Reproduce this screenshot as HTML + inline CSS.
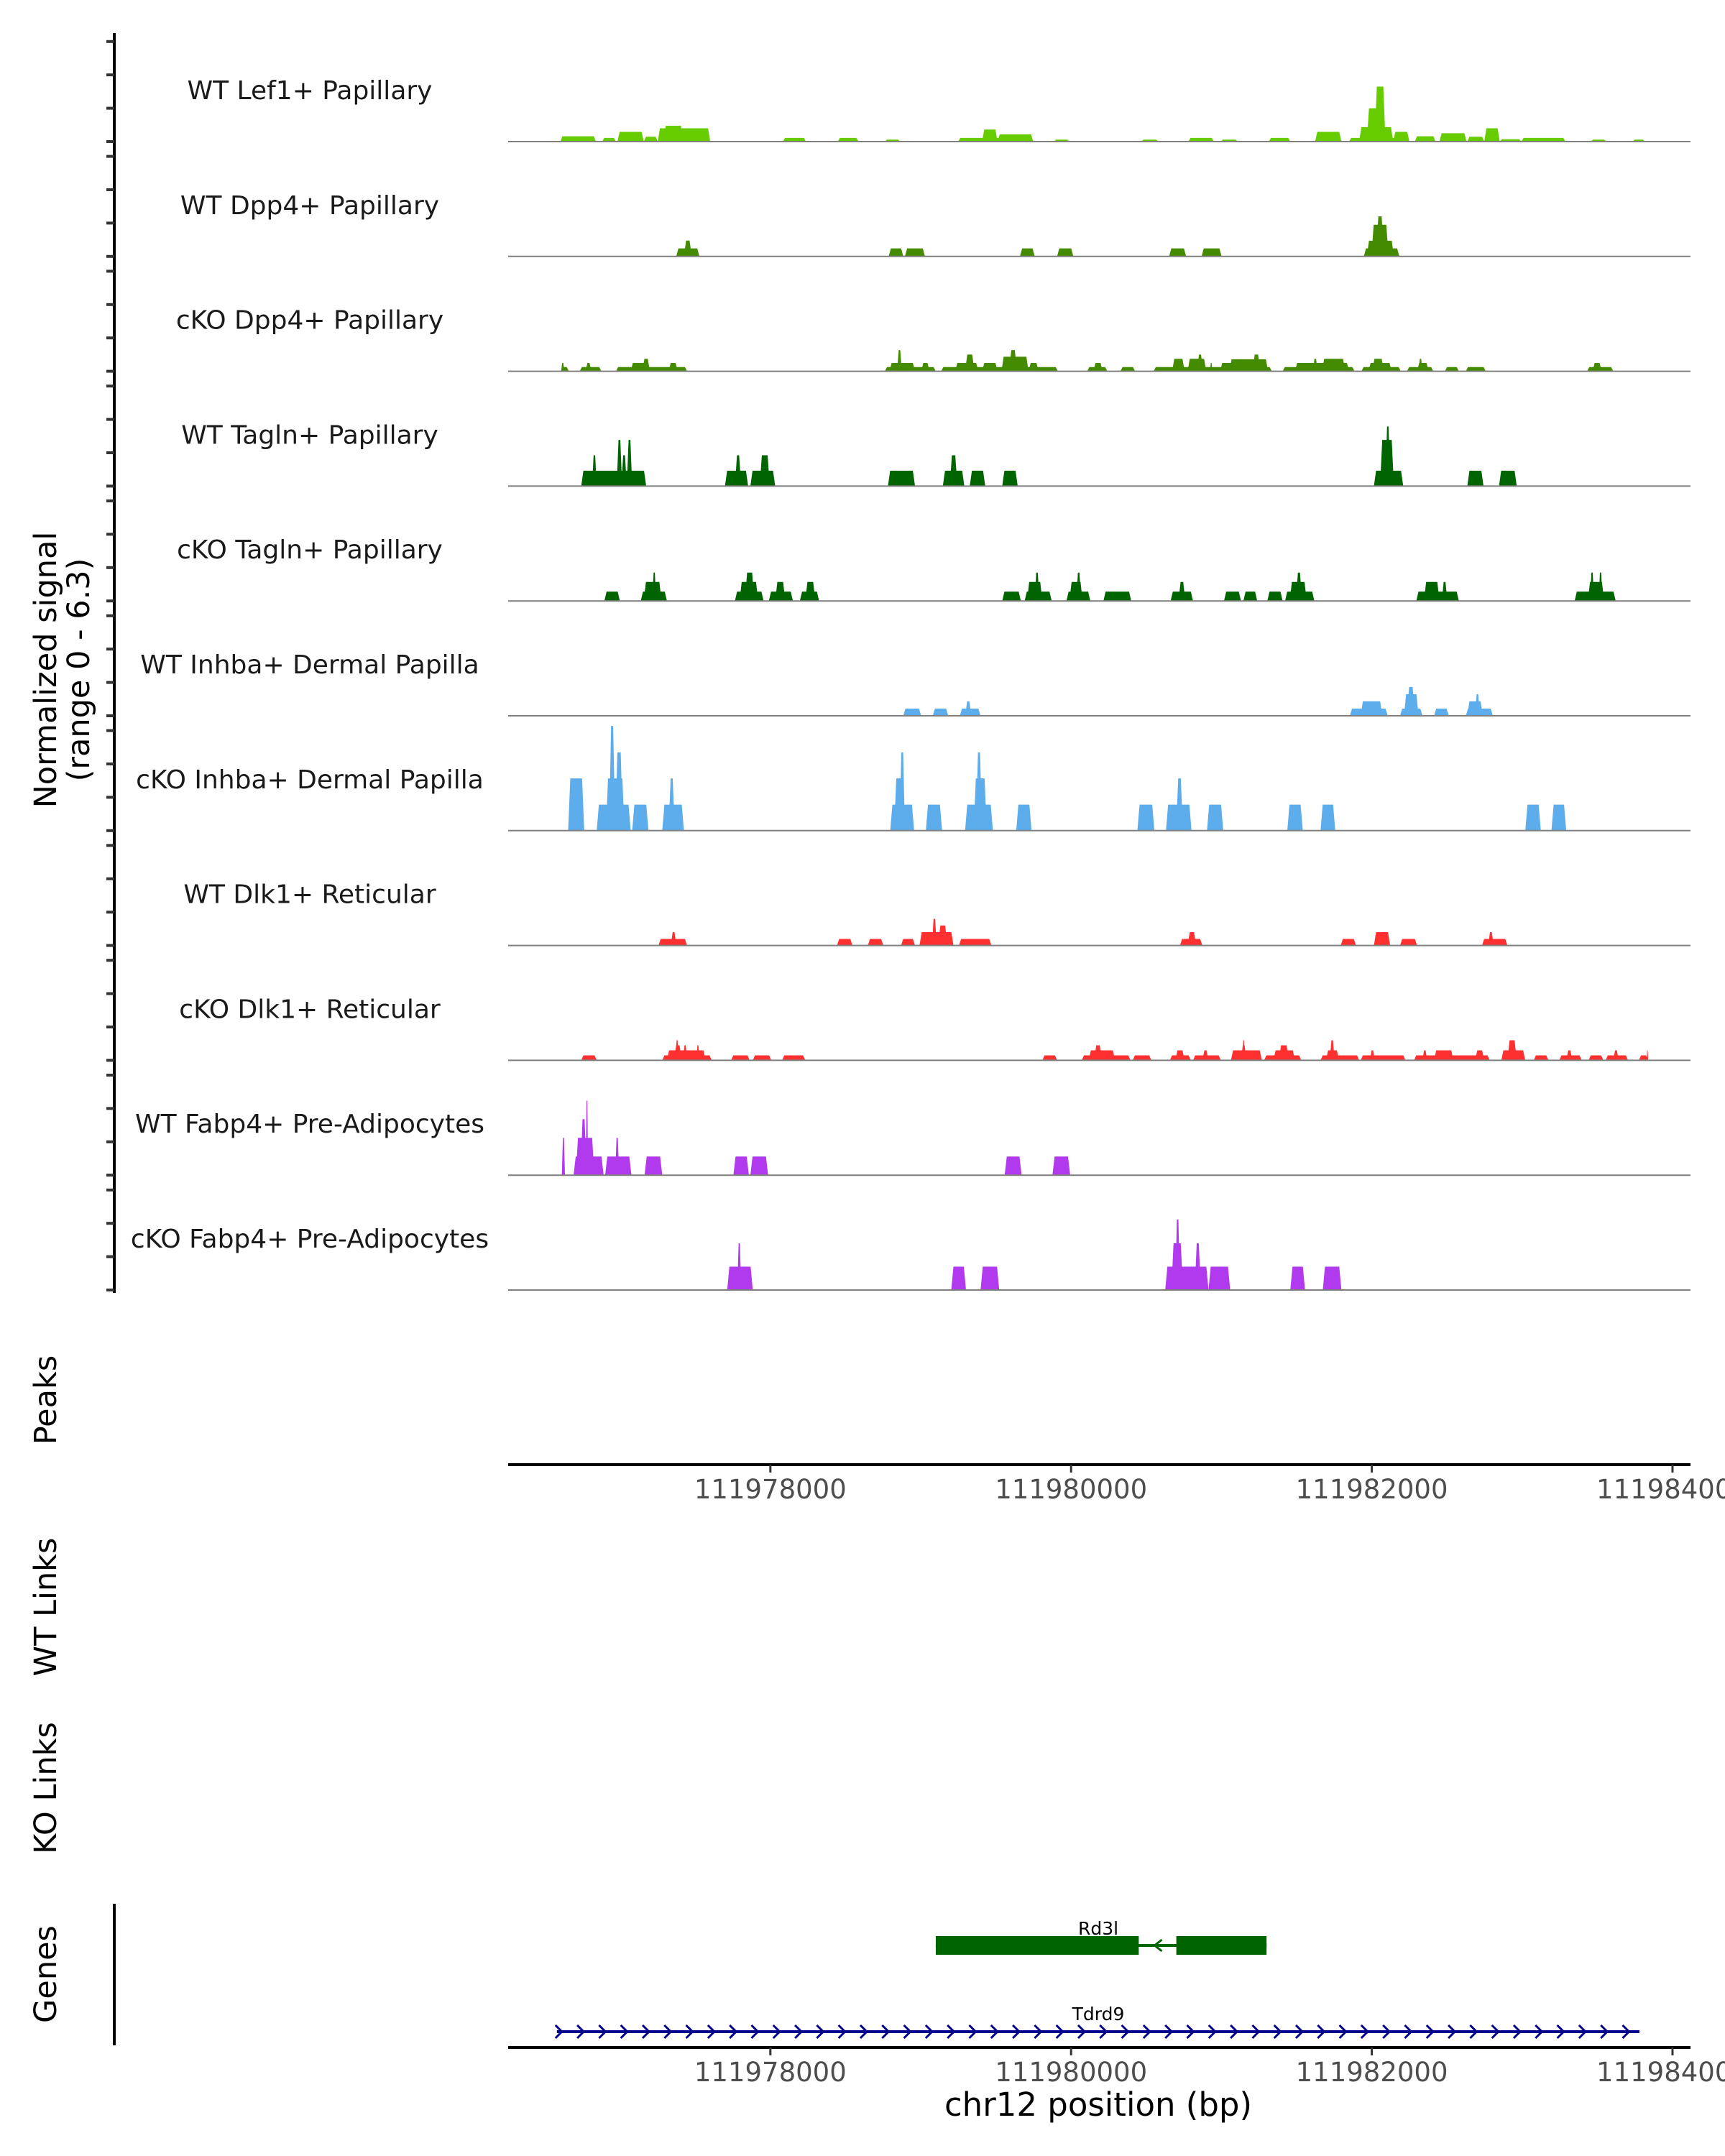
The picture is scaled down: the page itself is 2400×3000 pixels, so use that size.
<!DOCTYPE html>
<html><head><meta charset="utf-8"><style>
html,body{margin:0;padding:0;background:#fff}
svg{display:block;font-family:"DejaVu Sans","Liberation Sans",sans-serif}
</style></head><body>
<svg id="chart" width="2400" height="3000" viewBox="0 0 2400 3000" xmlns="http://www.w3.org/2000/svg">
<g id="tracks"></g>
<g id="yaxis"><line x1="159" y1="46" x2="159" y2="1799" stroke="#000" stroke-width="4"/></g>
<text transform="translate(78,932) rotate(-90)" text-anchor="middle" font-size="43" fill="#000">Normalized signal</text>
<text transform="translate(124,932) rotate(-90)" text-anchor="middle" font-size="43" fill="#000">(range 0 - 6.3)</text>
<text transform="translate(78,1948) rotate(-90)" text-anchor="middle" font-size="43">Peaks</text>
<text transform="translate(78,2236) rotate(-90)" text-anchor="middle" font-size="43">WT Links</text>
<text transform="translate(78,2488) rotate(-90)" text-anchor="middle" font-size="43">KO Links</text>
<text transform="translate(78,2747) rotate(-90)" text-anchor="middle" font-size="43">Genes</text>
<line x1="159" y1="2649" x2="159" y2="2846" stroke="#000" stroke-width="4"/>
<g id="axes"></g>
<g id="genes"></g>
<text x="1528" y="2944" text-anchor="middle" font-size="45" fill="#000">chr12 position (bp)</text>
</svg>
<script>
const REGION_START = 111976000;
const trackNames = ["WT Lef1+ Papillary","WT Dpp4+ Papillary","cKO Dpp4+ Papillary","WT Tagln+ Papillary","cKO Tagln+ Papillary","WT Inhba+ Dermal Papilla","cKO Inhba+ Dermal Papilla","WT Dlk1+ Reticular","cKO Dlk1+ Reticular","WT Fabp4+ Pre-Adipocytes","cKO Fabp4+ Pre-Adipocytes"];
const trackColors = ["#66CC00","#448B00","#448B00","#006400","#006400","#5DADEC","#5DADEC","#FF3030","#FF3030","#B23AEE","#B23AEE"];
const xTickValues = [111978000,111980000,111982000,111984000];
const yTickValues = [0,2,4,6];
// blocks: [startOffsetBp, endOffsetBp, value]
const lef1WT = [[603,840,0.32],[881,973,0.22],[983,1158,0.58],[1158,1251,0.29],[1251,1600,0.8],[1290,1420,0.95],[2083,2237,0.22],[2448,2586,0.22],[2761,2864,0.12],[3249,3748,0.22],[3408,3511,0.72],[3511,3748,0.43],[3886,3989,0.12],[4467,4580,0.12],[4780,4950,0.22],[4996,5109,0.12],[5315,5458,0.22],[5623,5798,0.58],[5849,6250,0.22],[5916,6142,0.87],[5967,6091,2.0],[6019,6091,3.3],[6142,6250,0.58],[6286,6424,0.32],[6450,6630,0.5],[6635,6748,0.29],[6748,6851,0.8],[6851,6995,0.14],[6995,7288,0.22],[7457,7560,0.12],[7735,7817,0.12]];
const dpp4WT = [[1374,1528,0.48],[1425,1477,0.95],[2787,2884,0.48],[2895,3028,0.48],[3660,3758,0.48],[3907,4015,0.48],[4652,4765,0.48],[4868,5001,0.48],[5947,6183,0.48],[5967,6147,0.94],[5998,6111,1.9],[6029,6080,2.4]];
const dpp4KO = [[608,660,0.25],[608,630,0.5],[732,876,0.25],[770,810,0.5],[973,1446,0.25],[1071,1189,0.5],[1148,1199,0.75],[1323,1384,0.5],[2761,3100,0.25],[2792,2962,0.5],[2843,2874,1.27],[3003,3059,0.5],[3136,3912,0.25],[3229,3383,0.5],[3295,3357,1.0],[3408,3511,0.5],[3537,3717,0.87],[3588,3640,1.27],[3717,3784,0.5],[4107,4241,0.25],[4148,4210,0.5],[4328,4426,0.25],[4549,5335,0.25],[4672,4755,0.75],[4775,4899,0.75],[4837,4878,1.0],[4924,4940,0.5],[4991,5310,0.5],[5053,5310,0.72],[5207,5258,1.0],[5407,5885,0.25],[5489,5849,0.5],[5608,5640,0.75],[5669,5823,0.75],[5931,6193,0.25],[5978,6132,0.5],[6003,6080,0.75],[6234,6409,0.25],[6301,6378,0.5],[6311,6337,0.75],[6486,6579,0.25],[6625,6758,0.25],[7432,7606,0.25],[7468,7529,0.5]];
const taglnWT = [[742,1174,0.92],[814,845,1.85],[978,1014,2.77],[1009,1045,1.85],[1045,1081,2.77],[1698,1852,0.92],[1764,1806,1.85],[1867,2032,0.92],[1929,1996,1.85],[2782,2962,0.92],[3147,3290,0.92],[3193,3244,1.85],[3326,3429,0.92],[3542,3645,0.92],[6014,6209,0.92],[6055,6147,2.77],[6091,6122,3.58],[6635,6743,0.92],[6846,6964,0.92]];
const taglnKO = [[896,999,0.56],[1138,1312,0.56],[1158,1276,1.14],[1215,1240,1.7],[1764,1955,0.56],[1795,1919,1.14],[1831,1893,1.7],[1990,2150,0.56],[2032,2099,1.14],[2196,2324,0.56],[2232,2299,1.14],[3542,3666,0.56],[3691,3871,0.56],[3707,3809,1.14],[3758,3789,1.7],[3969,4128,0.56],[3989,4077,1.14],[4035,4066,1.7],[4215,4400,0.56],[4662,4811,0.56],[4714,4760,1.14],[5017,5130,0.56],[5146,5238,0.56],[5305,5407,0.56],[5423,5618,0.56],[5454,5567,1.14],[5495,5536,1.7],[6296,6579,0.56],[6347,6450,1.14],[6466,6502,1.14],[7349,7622,0.56],[7437,7545,1.14],[7452,7478,1.7],[7509,7534,1.7]];
const inhbaWT = [[2884,3003,0.43],[3080,3183,0.43],[3260,3398,0.43],[3295,3337,0.87],[5854,6106,0.43],[5926,6070,0.87],[6188,6337,0.43],[6214,6311,1.3],[6234,6286,1.73],[6414,6512,0.43],[6625,6805,0.43],[6635,6738,0.87],[6687,6718,1.3]];
const inhbaKO = [[655,762,3.13],[845,1071,1.56],[906,1030,3.13],[927,968,6.28],[968,1019,4.69],[1081,1189,1.56],[1281,1425,1.56],[1323,1364,3.13],[2797,2956,1.56],[2823,2895,3.13],[2859,2895,4.69],[3034,3142,1.56],[3295,3480,1.56],[3352,3439,3.13],[3367,3408,4.69],[3635,3737,1.56],[4441,4554,1.56],[4631,4801,1.56],[4698,4744,3.13],[4904,5012,1.56],[5438,5541,1.56],[5659,5757,1.56],[7021,7124,1.56],[7195,7293,1.56]];
const dlk1WT = [[1256,1446,0.39],[1338,1374,0.8],[2443,2546,0.39],[2648,2751,0.39],[2869,2962,0.39],[2992,3218,0.8],[3075,3106,1.6],[3116,3177,1.2],[3254,3470,0.39],[4724,4873,0.39],[4775,4832,0.8],[5793,5895,0.39],[6014,6122,0.8],[6188,6301,0.39],[6733,6902,0.39],[6774,6810,0.8]];
const dlk1KO = [[742,845,0.3],[1281,1610,0.3],[1312,1569,0.6],[1359,1410,0.9],[1369,1390,1.2],[1420,1446,0.9],[1508,1528,0.9],[1739,1862,0.3],[1883,2006,0.3],[2078,2232,0.3],[3809,3907,0.3],[4071,4395,0.3],[4117,4292,0.6],[4153,4205,0.9],[4410,4534,0.3],[4657,4796,0.3],[4693,4755,0.6],[4811,4996,0.3],[4873,4914,0.6],[5063,5269,0.6],[5130,5166,0.9],[5140,5155,1.2],[5284,5531,0.3],[5346,5489,0.6],[5382,5448,0.9],[5659,5916,0.3],[5695,5782,0.6],[5721,5752,1.2],[5926,6224,0.3],[5988,6019,0.6],[6281,6784,0.3],[6337,6368,0.6],[6414,6543,0.6],[6687,6748,0.6],[6861,7021,0.6],[6902,6964,1.2],[7077,7175,0.3],[7247,7396,0.3],[7293,7334,0.6],[7442,7540,0.3],[7555,7704,0.3],[7606,7642,0.6],[7776,7838,0.3],[7828,7838,0.6]];
const fabp4WT = [[613,634,2.24],[691,891,1.12],[706,829,2.24],[737,778,3.36],[772,788,4.47],[901,1076,1.12],[968,994,2.24],[1163,1281,1.12],[1754,1857,1.12],[1867,1985,1.12],[3558,3671,1.12],[3876,3994,1.12]];
const fabp4KO = [[1713,1883,1.4],[1780,1806,2.8],[3203,3301,1.4],[3398,3522,1.4],[4626,4914,1.4],[4667,4744,2.8],[4693,4724,4.23],[4822,4863,2.8],[4914,5058,1.4],[5458,5556,1.4],[5674,5798,1.4]];
const trackData = [lef1WT,dpp4WT,dpp4KO,taglnWT,taglnKO,inhbaWT,inhbaKO,dlk1WT,dlk1KO,fabp4WT,fabp4KO];
// gene models (bp)
const tdrd9Span = [111976580, 111983780];
const rd3lExons = [[111979100,111980450],[111980700,111981300]];

const NS = "http://www.w3.org/2000/svg";
const X0 = 707, X1 = 2364, D0 = 111976256, D1 = 111984177;
function xScale(bp){ return X0 + (bp - D0) / (D1 - D0) * (X1 - X0); }
const BASE0 = 197, STEP = 159.8, PXU = 23.2;
function baseY(i){ return BASE0 + i * STEP; }
function yScale(i, v){ return baseY(i) - v * PXU; }
function mk(tag, attrs){ const e = document.createElementNS(NS, tag); for (const k in attrs) e.setAttribute(k, attrs[k]); return e; }

const tracks = document.getElementById('tracks');
const yaxis = document.getElementById('yaxis');
trackData.forEach((blocks, i) => {
  const g = mk('g', {});
  
  
  const lab = mk('text', {x: 431, y: baseY(i) - 59, 'text-anchor': 'middle', 'font-size': 36, fill: '#1a1a1a'});
  
  
  lab.textContent = trackNames[i];
  g.appendChild(lab);
  blocks.forEach(b => {
    const xa = xScale(REGION_START + b[0]), xb = xScale(REGION_START + b[1]);
    const yb = baseY(i), yt = yScale(i, b[2]);
    const s = Math.min(3, (xb - xa) / 3);
    const p = mk('polygon', {points: `${xa},${yb} ${xa + s},${yt} ${xb - s},${yt} ${xb},${yb}`, fill: trackColors[i]});
    
    
    g.appendChild(p);
  });
  const bl = mk('line', {x1: X0, x2: 2352, y1: baseY(i), y2: baseY(i), stroke: '#7f7f7f', 'stroke-width': 2});
  
  
  g.appendChild(bl);
  tracks.appendChild(g);
  yTickValues.forEach(v => {
    const t = mk('line', {x1: 148, x2: 159, y1: yScale(i, v), y2: yScale(i, v), stroke: '#333', 'stroke-width': 4});
    
    
    yaxis.appendChild(t);
  });
});

const axes = document.getElementById('axes');
[[2038, 2073], [2849, 2884]].forEach((a, k) => {
  const ln = mk('line', {x1: X0, x2: 2352, y1: a[0], y2: a[0], stroke: '#000', 'stroke-width': 4});
  
  
  axes.appendChild(ln);
  xTickValues.forEach(v => {
    const x = xScale(v);
    const t = mk('line', {x1: x, x2: x, y1: a[0], y2: a[0] + 11, stroke: '#333', 'stroke-width': 3});
    
    
    axes.appendChild(t);
    const tl = mk('text', {x: x, y: a[1] + 12, 'text-anchor': 'middle', 'font-size': 37, fill: '#4d4d4d'});
    
    
    tl.textContent = String(v);
    axes.appendChild(tl);
  });
});

const genes = document.getElementById('genes');
// Rd3l
const rg = mk('g', {});


const rx0 = xScale(rd3lExons[0][0]), rx1 = xScale(rd3lExons[1][1]);
rg.appendChild(mk('line', {x1: rx0, x2: rx1, y1: 2707, y2: 2707, stroke: '#006400', 'stroke-width': 4}));
rd3lExons.forEach(e => {
  const r = mk('rect', {x: xScale(e[0]), y: 2694, width: xScale(e[1]) - xScale(e[0]), height: 26, fill: '#006400'});
  
  
  rg.appendChild(r);
});
const mid = (xScale(rd3lExons[0][1]) + xScale(rd3lExons[1][0])) / 2;
rg.appendChild(mk('polyline', {points: `${mid + 6},${2699} ${mid - 4},${2707} ${mid + 6},${2715}`, fill: 'none', stroke: '#006400', 'stroke-width': 3}));
const rl = mk('text', {x: 1528, y: 2692, 'text-anchor': 'middle', 'font-size': 25, fill: '#000'});


rl.textContent = 'Rd3l';
rg.appendChild(rl);
genes.appendChild(rg);
// Tdrd9
const tg = mk('g', {});


const tx0 = xScale(tdrd9Span[0]), tx1 = xScale(tdrd9Span[1]);
tg.appendChild(mk('line', {x1: tx0, x2: tx1, y1: 2827, y2: 2827, stroke: '#00008B', 'stroke-width': 4}));
for (let x = tx0 + 4; x <= tx1 + 1; x += 30.3) {
  tg.appendChild(mk('polyline', {points: `${x - 6},${2818} ${x + 3},${2827} ${x - 6},${2836}`, fill: 'none', stroke: '#00008B', 'stroke-width': 3}));
}
const tl2 = mk('text', {x: 1528, y: 2811, 'text-anchor': 'middle', 'font-size': 25, fill: '#000'});


tl2.textContent = 'Tdrd9';
tg.appendChild(tl2);
genes.appendChild(tg);
</script>
</body></html>
